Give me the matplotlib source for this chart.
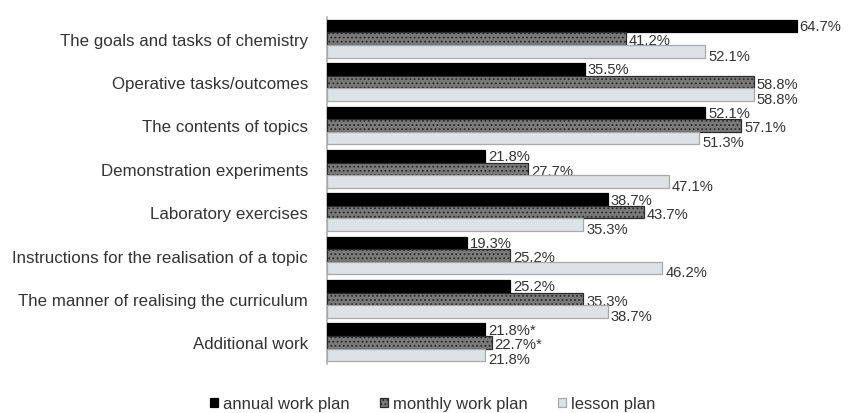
import matplotlib
matplotlib.use("Agg")
import matplotlib.pyplot as plt
import numpy as np

categories = [
    "The goals and tasks of chemistry",
    "Operative tasks/outcomes",
    "The contents of topics",
    "Demonstration experiments",
    "Laboratory exercises",
    "Instructions for the realisation of a topic",
    "The manner of realising the curriculum",
    "Additional work",
]
annual = [64.7, 35.5, 52.1, 21.8, 38.7, 19.3, 25.2, 21.8]
monthly = [41.2, 58.8, 57.1, 27.7, 43.7, 25.2, 35.3, 22.7]
lesson = [52.1, 58.8, 51.3, 47.1, 35.3, 46.2, 38.7, 21.8]
annual_lbl = ["64.7%", "35.5%", "52.1%", "21.8%", "38.7%", "19.3%", "25.2%", "21.8%*"]
monthly_lbl = ["41.2%", "58.8%", "57.1%", "27.7%", "43.7%", "25.2%", "35.3%", "22.7%*"]
lesson_lbl = ["52.1%", "58.8%", "51.3%", "47.1%", "35.3%", "46.2%", "38.7%", "21.8%"]
series_names = ["annual work plan", "monthly work plan", "lesson plan"]

plt.rcParams['font.family'] = ['Liberation Sans', 'DejaVu Sans']
plt.rcParams['hatch.color'] = '#a8a8a8'
plt.rcParams['hatch.linewidth'] = 0.8

fig = plt.figure(figsize=(8.5, 4.14), dpi=100)
ax = fig.add_axes([327/850, 1-365/414, 508/850, 347/414])

n = len(categories)
y = np.arange(n)
h = 0.29
offs = [-h, 0, h]
lbl_dy = [0.0, 0.04, 0.1]
colors = ["#000000", "#7a7a7a", "#dde2e5"]
edges = ["#000000", "#2a2a2a", "#a8a8a8"]
hatches = [None, "....", None]
datas = [annual, monthly, lesson]
labels = [annual_lbl, monthly_lbl, lesson_lbl]
for k in range(3):
    bars = ax.barh(y + offs[k], datas[k], height=h, color=colors[k],
                   edgecolor=edges[k], linewidth=0.9, hatch=hatches[k],
                   label=series_names[k], zorder=3)
    for i, b in enumerate(bars):
        ax.text(datas[k][i] + 0.4, y[i] + offs[k] + lbl_dy[k], labels[k][i],
                va="center", ha="left", fontsize=10.6, color="#333333")

ax.set_ylim(n - 0.5, -0.5)
ax.set_xlim(0, 70)
ax.set_yticks(y)
ax.set_yticklabels(categories, fontsize=12.2, color="#333333")
ax.tick_params(axis="y", length=0, pad=13.5)
ax.set_xticks([])
for s in ["top", "right", "bottom"]:
    ax.spines[s].set_visible(False)
ax.spines["left"].set_color("#b0b0b0")
ax.spines["left"].set_linewidth(1.2)

leg = fig.legend(loc="center", bbox_to_anchor=(0.509, 0.022), ncol=3,
                 frameon=False, fontsize=12, handlelength=0.5, handleheight=0.5,
                 columnspacing=1.8, handletextpad=0.3)
for t in leg.get_texts():
    t.set_color("#333333")

fig.savefig("out.png", dpi=100)
